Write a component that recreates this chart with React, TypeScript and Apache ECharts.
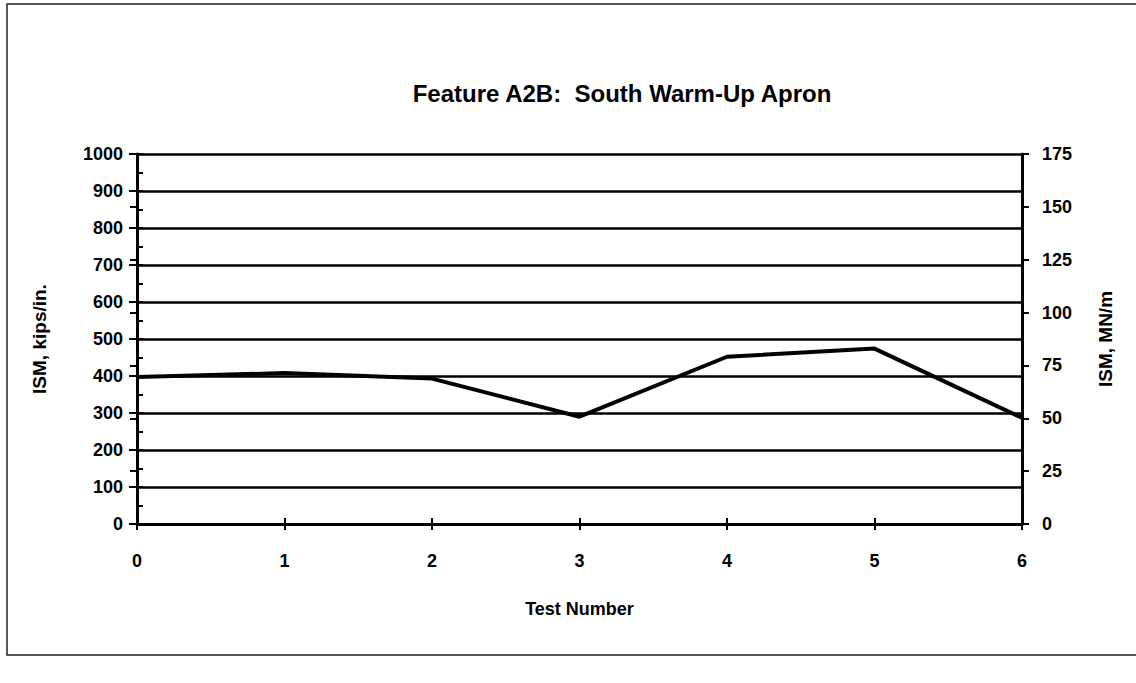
import React, { useEffect, useRef } from "react";
import * as echarts from "echarts";

const testNumbers = [0, 1, 2, 3, 4, 5, 6];
const ismKips = [397, 408, 393, 290, 452, 474, 287];
const leftTicks = [0, 100, 200, 300, 400, 500, 600, 700, 800, 900, 1000];
const rightTicks = [0, 25, 50, 75, 100, 125, 150, 175];

const FONT = "'Liberation Sans', Arial, sans-serif";

export default function App() {
  const ref = useRef<HTMLDivElement>(null);
  useEffect(() => {
    if (!ref.current) return;
    const chart = echarts.init(ref.current, null, { renderer: "svg" });
    const labelStyle = { color: "#000", fontFamily: FONT, fontWeight: "bold" as const, fontSize: 18 };
    chart.setOption({
      animation: false,
      backgroundColor: "#fff",
      title: {
        text: "Feature A2B:  South Warm-Up Apron",
        left: 617,
        textAlign: "center",
        top: 76,
        textStyle: { color: "#000", fontFamily: FONT, fontWeight: "bold", fontSize: 24 },
      },
      graphic: [
        {
          type: "rect",
          shape: { x: 7, y: 4, width: 1140, height: 651 },
          style: { fill: "none", stroke: "#222", lineWidth: 1.5 },
          silent: true,
        },
      ],
      grid: { left: 137, right: 114, top: 154, bottom: 159, containLabel: false },
      xAxis: [
        {
          type: "value",
          min: 0,
          max: 6,
          interval: 1,
          position: "bottom",
          name: "Test Number",
          nameLocation: "middle",
          nameGap: 76,
          nameTextStyle: { ...labelStyle, fontSize: 18 },
          axisLine: { show: true, onZero: false, lineStyle: { color: "#000", width: 3 } },
          axisTick: { show: true, inside: false, length: 6, lineStyle: { color: "#000", width: 2 } },
          axisLabel: { ...labelStyle, margin: 28, formatter: (v: number) => String(testNumbers[v] ?? v) },
          splitLine: { show: false },
        },
        {
          type: "value",
          min: 0,
          max: 6,
          interval: 1,
          position: "bottom",
          axisLine: { show: false },
          axisTick: { show: true, inside: true, length: 6, lineStyle: { color: "#000", width: 2 } },
          axisLabel: { show: false },
          splitLine: { show: false },
        },
      ],
      yAxis: [
        {
          type: "value",
          min: leftTicks[0],
          max: leftTicks[leftTicks.length - 1],
          interval: 100,
          position: "left",
          name: "ISM, kips/in.",
          nameLocation: "middle",
          nameGap: 88,
          nameTextStyle: { ...labelStyle, fontSize: 19 },
          axisLine: { show: true, onZero: false, lineStyle: { color: "#000", width: 3 } },
          axisTick: { show: true, inside: false, length: 8, lineStyle: { color: "#000", width: 2 } },
          axisLabel: { ...labelStyle, margin: 14, formatter: (v: number) => String(v) },
          splitLine: { show: true, lineStyle: { color: "#000", width: 2.5 } },
        },
        {
          type: "value",
          min: 0,
          max: 1000,
          interval: 50,
          position: "left",
          axisLine: { show: false },
          axisTick: { show: true, inside: true, length: 6, lineStyle: { color: "#000", width: 2 } },
          axisLabel: { show: false },
          splitLine: { show: false },
        },
        {
          type: "value",
          min: rightTicks[0],
          max: rightTicks[rightTicks.length - 1],
          interval: 25,
          position: "right",
          name: "ISM, MN/m",
          nameLocation: "middle",
          nameGap: 74,
          nameTextStyle: { ...labelStyle, fontSize: 19 },
          axisLine: { show: true, onZero: false, lineStyle: { color: "#000", width: 3 } },
          axisTick: { show: true, inside: false, length: 7, lineStyle: { color: "#000", width: 2 } },
          axisLabel: { ...labelStyle, margin: 20 },
          splitLine: { show: false },
        },
        {
          type: "value",
          min: rightTicks[0],
          max: rightTicks[rightTicks.length - 1],
          interval: 25,
          position: "right",
          axisLine: { show: false },
          axisTick: { show: true, inside: true, length: 7, lineStyle: { color: "#000", width: 2 } },
          axisLabel: { show: false },
          splitLine: { show: false },
        },
      ],
      series: [
        {
          type: "line",
          xAxisIndex: 0,
          yAxisIndex: 0,
          data: testNumbers.map((x, i) => [x, ismKips[i]]),
          showSymbol: false,
          symbol: "none",
          lineStyle: { color: "#000", width: 4 },
          z: 5,
        },
      ],
    });
    return () => chart.dispose();
  }, []);
  return <div ref={ref} style={{ width: 1136, height: 683, position: "absolute", left: 0, top: 0 }} />;
}
